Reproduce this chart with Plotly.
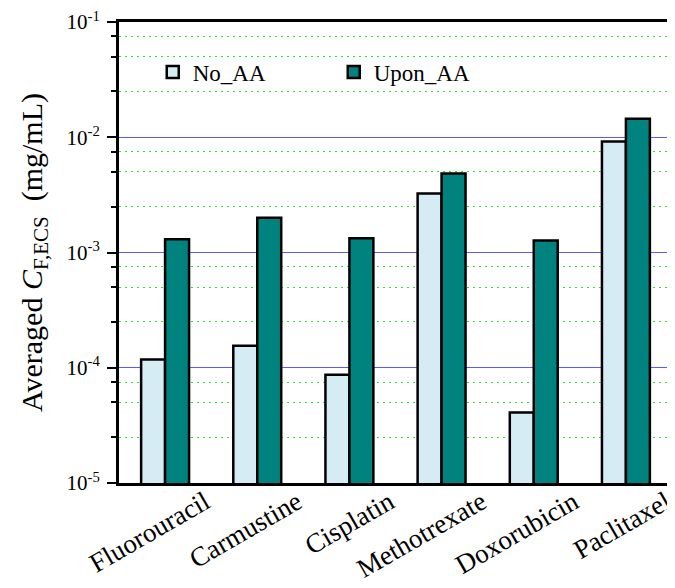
import plotly.graph_objects as go

categories = ["Fluorouracil", "Carmustine", "Cisplatin", "Methotrexate", "Doxorubicin", "Paclitaxel"]
no_aa = [1.18e-4, 1.55e-4, 8.7e-5, 3.25e-3, 4.1e-5, 9.2e-3]
upon_aa = [1.30e-3, 2.0e-3, 1.33e-3, 4.85e-3, 1.27e-3, 1.45e-2]

y_tickvals = [1e-5, 1e-4, 1e-3, 1e-2, 1e-1]
y_ticktext = ["10<sup>-5</sup>", "10<sup>-4</sup>", "10<sup>-3</sup>", "10<sup>-2</sup>", "10<sup>-1</sup>"]
minor_vals = [m * 10.0 ** e for e in range(-5, -1) for m in (2.5, 5, 7.5)]

serif = "Liberation Serif"

fig = go.Figure()
fig.add_trace(go.Bar(name="No_AA", x=categories, y=no_aa,
                     marker=dict(color="#D6ECF4", line=dict(color="black", width=2.5))))
fig.add_trace(go.Bar(name="Upon_AA", x=categories, y=upon_aa,
                     marker=dict(color="#00837F", line=dict(color="black", width=2.5))))

# page body has an 8px margin, so the figure is 8px smaller than the window
fig.update_layout(
    width=667, height=580,
    margin=dict(l=111, r=3, t=14, b=105),
    plot_bgcolor="white", paper_bgcolor="white",
    barmode="group", bargap=0.48, bargroupgap=0,
    font=dict(family=serif, color="black"),
    legend=dict(orientation="h", x=0.061, y=0.938, xanchor="left", yanchor="top",
                font=dict(size=23, family=serif), bgcolor="rgba(0,0,0,0)",
                entrywidth=136, entrywidthmode="pixels", tracegroupgap=0),
)
fig.update_xaxes(
    automargin=False, ticklabeloverflow="allow",
    showline=True, linecolor="black", linewidth=3, mirror=True,
    ticks="", tickangle=-30, ticklabelshift=40, ticklabelstandoff=-10,
    tickfont=dict(size=27, family=serif), showgrid=False,
)
fig.update_yaxes(
    automargin=False, ticklabeloverflow="allow",
    type="log", range=[-5, -1],
    showline=True, linecolor="black", linewidth=3, mirror=False,
    tickmode="array", tickvals=y_tickvals, ticktext=y_ticktext,
    ticks="outside", ticklen=9, tickwidth=2, tickcolor="black",
    tickfont=dict(size=21, family=serif), ticklabelstandoff=3,
    showgrid=True, gridcolor="rgb(90,90,255)", gridwidth=1.2,
    minor=dict(tickmode="array", tickvals=minor_vals, ticks="outside", ticklen=5,
               tickwidth=2, tickcolor="black", showgrid=True, gridcolor="rgb(40,230,40)",
               griddash="2px,4px", gridwidth=1),
    title=dict(text="Averaged <i>C</i><sub>F,ECS</sub>  (mg/mL)", font=dict(size=30, family=serif),
               standoff=16),
    zeroline=False,
)

fig.write_html("out.html")
